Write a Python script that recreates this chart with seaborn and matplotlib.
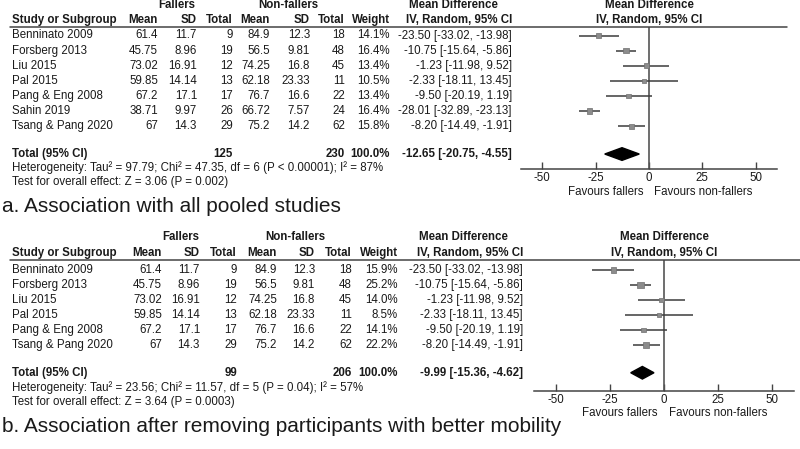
import numpy as np
import pandas as pd
import matplotlib
matplotlib.use('Agg')
import matplotlib.pyplot as plt
from matplotlib.lines import Line2D
import seaborn as sns

sns.set_style('white')
plt.rcParams['font.family'] = ['Liberation Sans', 'DejaVu Sans']
plt.rcParams['axes.unicode_minus'] = False

# ---- data ----
studies_a = ['Benninato 2009', 'Forsberg 2013', 'Liu 2015', 'Pal 2015',
             'Pang & Eng 2008', 'Sahin 2019', 'Tsang & Pang 2020']
f_mean_a = [61.4, 45.75, 73.02, 59.85, 67.2, 38.71, 67]
f_sd_a = [11.7, 8.96, 16.91, 14.14, 17.1, 9.97, 14.3]
f_n_a = [9, 19, 12, 13, 17, 26, 29]
nf_mean_a = [84.9, 56.5, 74.25, 62.18, 76.7, 66.72, 75.2]
nf_sd_a = [12.3, 9.81, 16.8, 23.33, 16.6, 7.57, 14.2]
nf_n_a = [18, 48, 45, 11, 22, 24, 62]
weight_a = [14.1, 16.4, 13.4, 10.5, 13.4, 16.4, 15.8]
md_a = [-23.50, -10.75, -1.23, -2.33, -9.50, -28.01, -8.20]
lo_a = [-33.02, -15.64, -11.98, -18.11, -20.19, -32.89, -14.49]
hi_a = [-13.98, -5.86, 9.52, 13.45, 1.19, -23.13, -1.91]
total_a = (125, 230, -12.65, -20.75, -4.55)
het_a = 'Heterogeneity: Tau\u00b2 = 97.79; Chi\u00b2 = 47.35, df = 6 (P < 0.00001); I\u00b2 = 87%'
test_a = 'Test for overall effect: Z = 3.06 (P = 0.002)'
title_a = 'a. Association with all pooled studies'

keep_b = [0, 1, 2, 3, 4, 6]  # Sahin 2019 removed
weight_b = [15.9, 25.2, 14.0, 8.5, 14.1, 22.2]
total_b = (99, 206, -9.99, -15.36, -4.62)
het_b = 'Heterogeneity: Tau\u00b2 = 23.56; Chi\u00b2 = 11.57, df = 5 (P = 0.04); I\u00b2 = 57%'
test_b = 'Test for overall effect: Z = 3.64 (P = 0.0003)'
title_b = 'b. Association after removing participants with better mobility'

ticks = [-50, -25, 0, 25, 50]

W, H = 800, 449
fig = plt.figure(figsize=(8, 4.49), dpi=100)
TXT = '#1a1a1a'
FS = 8.3


def t(x, y, s, ha='left', bold=False, size=FS):
    fig.text(x / W, 1 - y / H, s, ha=ha, va='center', fontsize=size,
             fontweight='bold' if bold else 'normal', color=TXT)


def panel(df, tot, het, test, title, top, cols, hdr, fx, fy):
    # top: pixel y positions; cols: right edges of table columns
    y0, dy = top['row0'], top['dy']
    n = len(df)
    ypx = [y0 + dy * i for i in range(n)]
    ytot = y0 + dy * (n + 0.85)

    t(hdr['fallers'], top['h1'], 'Fallers', ha='center', bold=True)
    t(hdr['nonfallers'], top['h1'], 'Non-fallers', ha='center', bold=True)
    t(hdr['md'], top['h1'], 'Mean Difference', ha='center', bold=True)
    t(hdr['plot'], top['h1'], 'Mean Difference', ha='center', bold=True)
    t(12, top['h2'], 'Study or Subgroup', bold=True)
    for c, lab in zip(cols[:7], ['Mean', 'SD', 'Total', 'Mean', 'SD', 'Total', 'Weight']):
        t(c, top['h2'], lab, ha='right', bold=True)
    t(cols[7], top['h2'], 'IV, Random, 95% CI', ha='right', bold=True)
    t(hdr['plot'], top['h2'], 'IV, Random, 95% CI', ha='center', bold=True)
    fig.add_artist(Line2D([10 / W, top['line_end'] / W],
                          [1 - top['line'] / H] * 2, color='#444444', lw=1.1))

    for yy, (_, r) in zip(ypx, df.iterrows()):
        t(12, yy, r['study'])
        vals = [f"{r['f_mean']:g}", f"{r['f_sd']:g}", f"{int(r['f_n'])}",
                f"{r['nf_mean']:g}", f"{r['nf_sd']:g}", f"{int(r['nf_n'])}",
                f"{r['weight']:.1f}%",
                f"{r['md']:.2f} [{r['lo']:.2f}, {r['hi']:.2f}]"]
        for c, v in zip(cols, vals):
            t(c, yy, v, ha='right')

    t(12, ytot, 'Total (95% CI)', bold=True)
    t(cols[2], ytot, f'{tot[0]}', ha='right', bold=True)
    t(cols[5], ytot, f'{tot[1]}', ha='right', bold=True)
    t(cols[6], ytot, '100.0%', ha='right', bold=True)
    t(cols[7], ytot, f'{tot[2]:.2f} [{tot[3]:.2f}, {tot[4]:.2f}]', ha='right', bold=True)
    t(12, top['het'], het)
    t(12, top['test'], test)
    t(2, top['title'], title, size=15)

    # forest axis
    left, right = fx
    ytop, ybot = fy
    ax = fig.add_axes([left / W, 1 - ybot / H, (right - left) / W, (ybot - ytop) / H])
    rows = np.arange(n)
    ax.hlines(rows, df['lo'], df['hi'], color='#3c3c3c', lw=1.1, zorder=2)
    sns.scatterplot(x=df['md'].values, y=rows, size=df['weight'].values,
                    sizes=(0, 26), size_norm=(0, 30), marker='s',
                    color='#8c8c8c', edgecolor='#707070', linewidth=0.5,
                    legend=False, ax=ax, zorder=3)
    yt = n + 0.85
    h = 0.42
    ax.fill([tot[3], tot[2], tot[4], tot[2]], [yt, yt - h, yt, yt + h],
            color='black', zorder=3)
    ax.axvline(0, color='#555555', lw=1.2, zorder=1)
    ax.set_xlim(-60, 60)
    ax.set_ylim((ybot - y0) / dy, (ytop - y0) / dy)
    ax.set_xticks(ticks)
    ax.set_xticklabels([str(v) for v in ticks])
    ax.set_yticks([])
    ax.set_xlabel('')
    ax.set_ylabel('')
    for s in ['top', 'left', 'right']:
        ax.spines[s].set_visible(False)
    ax.spines['bottom'].set_color('#444444')
    ax.spines['bottom'].set_linewidth(1.1)
    ax.tick_params(axis='x', direction='in', length=5, width=1, color='#444444',
                   labelsize=FS, labelcolor=TXT, pad=2, bottom=True)
    ax.patch.set_alpha(0)
    t(hdr['plot'] - 6, top['fav'], 'Favours fallers', ha='right')
    t(hdr['plot'] + 5, top['fav'], 'Favours non-fallers', ha='left')


df_a = pd.DataFrame({'study': studies_a, 'f_mean': f_mean_a, 'f_sd': f_sd_a,
                     'f_n': f_n_a, 'nf_mean': nf_mean_a, 'nf_sd': nf_sd_a,
                     'nf_n': nf_n_a, 'weight': weight_a, 'md': md_a,
                     'lo': lo_a, 'hi': hi_a})
df_b = df_a.iloc[keep_b].reset_index(drop=True).copy()
df_b['weight'] = weight_b

panel(df_a, total_a, het_a, test_a, title_a,
      top=dict(h1=5, h2=20, line=27, line_end=787, row0=35.5, dy=15.1,
               het=168, test=182, title=207, fav=192),
      cols=[158, 197, 233, 270, 310, 345, 390, 512],
      hdr=dict(fallers=177, nonfallers=288, md=453, plot=649),
      fx=(521, 777), fy=(27, 169))

panel(df_b, total_b, het_b, test_b, title_b,
      top=dict(h1=237, h2=253, line=260, line_end=800, row0=270, dy=15,
               het=388, test=402, title=427, fav=413),
      cols=[162, 200, 237, 277, 315, 352, 398, 523],
      hdr=dict(fallers=181, nonfallers=295, md=463, plot=664),
      fx=(534, 794), fy=(260, 391))

fig.savefig('out.png', dpi=100)
plt.close()
